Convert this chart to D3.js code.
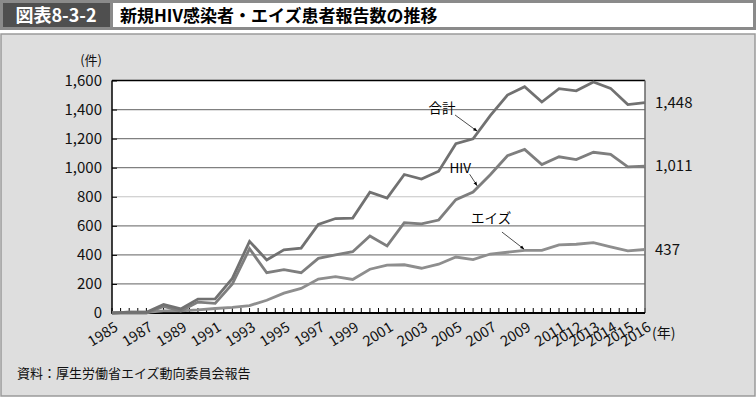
<!DOCTYPE html>
<html>
<head>
<meta charset="utf-8">
<script src="https://cdn.jsdelivr.net/npm/d3@7/dist/d3.min.js"></script>
<style>
body { margin: 0; background: #fff; }
svg { display: block; font-family: 'Noto Sans CJK JP', 'Noto Sans', sans-serif; }
</style>
</head>
<body>
<div id="chart"></div>
<script>
// categories (year positions on the axis)
var years = ['1985', '1986', '1987', '1988', '1989', '1990', '1991', '1992', '1993', '1994',
    '1995', '1996', '1997', '1998', '1999', '2000', '2001', '2002', '2003', '2004',
    '2005', '2006', '2007', '2008', '2009', '2010', '2011', '2012', '2013', '2014',
    '2015', '2016'];

// shown tick labels
var yearLabels = ['1985', '1987', '1989', '1991', '1993', '1995', '1997', '1999', '2001',
    '2003', '2005', '2007', '2009', '2011', '2012', '2013', '2014', '2015', '2016'];

// series values
var hivValues = [0, 0, 0, 45, 14, 75, 66, 200, 442, 277, 298, 277, 376, 400, 422, 530,
    462, 621, 614, 640, 780, 832, 952, 1082, 1126, 1021, 1075, 1056, 1106, 1091, 1006, 1011];
var aidsValues = [0, 6, 5, 14, 14, 21, 31, 38, 51, 88, 137, 169, 234, 250, 231, 301,
    329, 332, 308, 336, 385, 367, 406, 418, 431, 431, 469, 473, 484, 455, 428, 437];
var totalValues = [0, 6, 5, 59, 28, 96, 97, 238, 493, 365, 435, 446, 610, 650, 653, 831,
    791, 953, 922, 976, 1165, 1199, 1358, 1500, 1557, 1452, 1544, 1529, 1590, 1546, 1434, 1448];

var yTicks = [0, 200, 400, 600, 800, 1000, 1200, 1400, 1600];

var W = 756, H = 398;
var plot = { left: 112, right: 645, top: 80.5, bottom: 313 };

var svg = d3.select('#chart')
    .append('svg')
    .attr('width', W)
    .attr('height', H);

//Title bar
svg.append('rect').attr('x', 0).attr('y', 0).attr('width', W).attr('height', 30).attr('fill', '#8a8a8a');
svg.append('rect').attr('x', 3).attr('y', 3).attr('width', 107).attr('height', 24).attr('fill', '#4f4f4f');
svg.append('rect').attr('x', 113).attr('y', 3).attr('width', 640).attr('height', 24).attr('fill', '#fff');
svg.append('text')
    .attr('x', 56).attr('y', 22)
    .attr('text-anchor', 'middle')
    .attr('fill', '#fff')
    .attr('font-weight', 'bold')
    .attr('font-size', 18)
    .text('図表8-3-2');
svg.append('text')
    .attr('x', 120).attr('y', 21.5)
    .attr('fill', '#000')
    .attr('font-weight', 'bold')
    .attr('font-size', 17)
    .text('新規HIV感染者・エイズ患者報告数の推移');

//Panel
svg.append('rect')
    .attr('x', 1).attr('y', 34)
    .attr('width', W - 2).attr('height', H - 36)
    .attr('fill', '#dedede')
    .attr('stroke', '#9a9a9a')
    .attr('stroke-width', 1.5);

var xScale = d3.scaleLinear()
    .domain([0, years.length - 1])
    .range([plot.left, plot.right]);

var yScale = d3.scaleLinear()
    .domain([0, 1600])
    .range([plot.bottom, plot.top]);

// plot area
svg.append('rect')
    .attr('x', plot.left).attr('y', plot.top)
    .attr('width', plot.right - plot.left)
    .attr('height', plot.bottom - plot.top)
    .attr('fill', '#fff');

//Grid
svg.append('g')
    .selectAll('line')
    .data(yTicks.slice(1, -1))
    .enter().append('line')
    .attr('x1', plot.left).attr('x2', plot.right)
    .attr('y1', function(d) { return yScale(d); })
    .attr('y2', function(d) { return yScale(d); })
    .attr('stroke', function(d) { return d === 800 ? '#c4c4c4' : '#808080'; })
    .attr('stroke-width', 1.2);

//Y-Axis
var yAxis = svg.append('g')
    .attr('transform', 'translate(' + plot.left + ',0)')
    .call(d3.axisRight(yScale).tickValues(yTicks).tickSize(5).tickFormat(''));
yAxis.select('.domain').remove();
yAxis.selectAll('line').attr('stroke', '#000');

svg.append('g')
    .selectAll('text')
    .data(yTicks)
    .enter().append('text')
    .attr('x', plot.left - 10)
    .attr('y', function(d) { return yScale(d); })
    .attr('dy', '0.36em')
    .attr('text-anchor', 'end')
    .attr('font-size', 15)
    .attr('fill', '#111')
    .text(function(d) { return d3.format(',')(d); });

svg.append('text')
    .attr('x', 102).attr('y', 64.5)
    .attr('text-anchor', 'end')
    .attr('font-size', 13)
    .attr('fill', '#111')
    .text('(件)');

//X-Axis ticks (every half year)
var halfTicks = d3.range(0, years.length - 0.5, 0.5);
svg.append('g')
    .selectAll('line')
    .data(halfTicks)
    .enter().append('line')
    .attr('x1', function(d) { return xScale(d); })
    .attr('x2', function(d) { return xScale(d); })
    .attr('y1', plot.bottom)
    .attr('y2', plot.bottom - 5)
    .attr('stroke', '#000')
    .attr('stroke-width', 1);

// frame
svg.append('line')
    .attr('x1', plot.left).attr('x2', plot.right)
    .attr('y1', plot.top).attr('y2', plot.top)
    .attr('stroke', '#000').attr('stroke-width', 1.5);
svg.append('line')
    .attr('x1', plot.right).attr('x2', plot.right)
    .attr('y1', plot.top).attr('y2', plot.bottom)
    .attr('stroke', '#666').attr('stroke-width', 1.5);
svg.append('line')
    .attr('x1', plot.left).attr('x2', plot.left)
    .attr('y1', plot.top).attr('y2', plot.bottom + 1)
    .attr('stroke', '#000').attr('stroke-width', 1.5);
svg.append('line')
    .attr('x1', plot.left).attr('x2', plot.right)
    .attr('y1', plot.bottom).attr('y2', plot.bottom)
    .attr('stroke', '#000').attr('stroke-width', 2);

svg.append('g')
    .selectAll('text')
    .data(yearLabels)
    .enter().append('text')
    .attr('transform', function(d) {
        return 'translate(' + (xScale(years.indexOf(d)) + 1) + ',' + (plot.bottom + 7) + ') rotate(-32)';
    })
    .attr('dy', '0.8em')
    .attr('text-anchor', 'end')
    .attr('font-size', 14.5)
    .attr('fill', '#111')
    .text(function(d) { return d; });

svg.append('text')
    .attr('x', 652).attr('y', 338)
    .attr('font-size', 14)
    .attr('fill', '#111')
    .text('(年)');

//Lines
var line = d3.line()
    .x(function(d, i) { return xScale(i); })
    .y(function(d) { return yScale(d); });

var series = [
    { name: 'エイズ', values: aidsValues, color: '#8e8e8e' },
    { name: 'HIV', values: hivValues, color: '#7e7e7e' },
    { name: '合計', values: totalValues, color: '#717171' }
];

svg.append('g')
    .selectAll('path')
    .data(series)
    .enter().append('path')
    .attr('d', function(d) { return line(d.values); })
    .attr('fill', 'none')
    .attr('stroke', function(d) { return d.color; })
    .attr('stroke-width', 2.8)
    .attr('stroke-linejoin', 'miter');

// end values
svg.append('g')
    .selectAll('text')
    .data(series)
    .enter().append('text')
    .attr('x', plot.right + 10)
    .attr('y', function(d) { return yScale(d.values[d.values.length - 1]); })
    .attr('dy', '0.36em')
    .attr('font-size', 15)
    .attr('fill', '#111')
    .text(function(d) { return d3.format(',')(d.values[d.values.length - 1]); });

//Labels with arrows
svg.append('defs').append('marker')
    .attr('id', 'arrow')
    .attr('viewBox', '0 0 10 10')
    .attr('refX', 9).attr('refY', 5)
    .attr('markerWidth', 6).attr('markerHeight', 6)
    .attr('orient', 'auto')
    .append('path')
    .attr('d', 'M0,1 L10,5 L0,9 Z')
    .attr('fill', '#000');

var notes = [
    { text: '合計', tx: 19.2, tv: 1411, x1: 19.95, v1: 1363, x2: 21.23, v2: 1252 },
    { text: 'HIV', tx: 20.25, tv: 1000, x1: 20.8, v1: 955, x2: 21.23, v2: 877 },
    { text: 'エイズ', tx: 22.05, tv: 654, x1: 22.68, v1: 557, x2: 23.96, v2: 440 }
];

var note = svg.append('g').selectAll('g').data(notes).enter().append('g');
note.append('line')
    .attr('x1', function(d) { return xScale(d.x1); })
    .attr('y1', function(d) { return yScale(d.v1); })
    .attr('x2', function(d) { return xScale(d.x2); })
    .attr('y2', function(d) { return yScale(d.v2); })
    .attr('stroke', '#000')
    .attr('stroke-width', 0.7)
    .attr('marker-end', 'url(#arrow)');
note.append('text')
    .attr('x', function(d) { return xScale(d.tx); })
    .attr('y', function(d) { return yScale(d.tv); })
    .attr('dy', '0.36em')
    .attr('text-anchor', 'middle')
    .attr('font-size', 13.5)
    .attr('fill', '#000')
    .text(function(d) { return d.text; });

//Source
svg.append('text')
    .attr('x', 17).attr('y', 378)
    .attr('font-size', 13)
    .attr('fill', '#111')
    .text('資料：厚生労働省エイズ動向委員会報告');
</script>
</body>
</html>
